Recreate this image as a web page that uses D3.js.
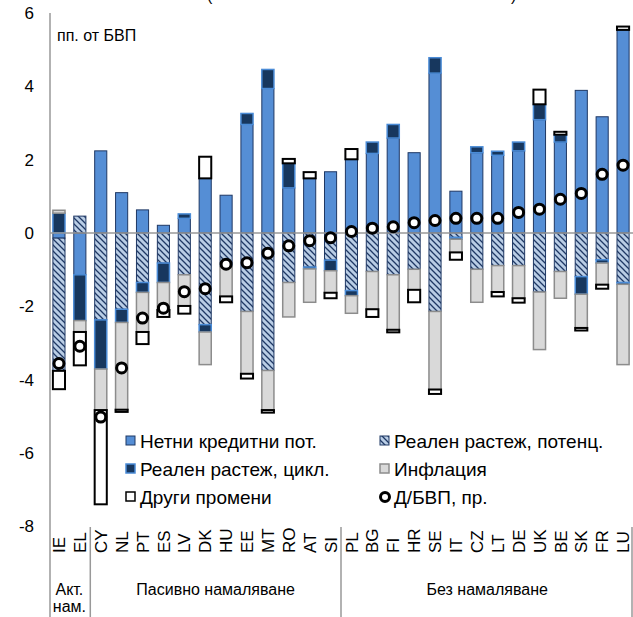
<!DOCTYPE html>
<html><head><meta charset="utf-8">
<script src="https://cdn.jsdelivr.net/npm/d3@7/dist/d3.min.js"></script>
<style>body{margin:0;background:#fff}svg{display:block;font-family:"Liberation Sans",Arial,sans-serif}</style>
</head><body><svg id="c" width="633" height="617"></svg>
<script>
const categories = ["IE","EL","CY","NL","PT","ES","LV","DK","HU","EE","MT","RO","AT","SI","PL","BG","FI","HR","SE","IT","CZ","LT","DE","UK","BE","SK","FR","LU"];
const netCredit  = [-0.14,-1.14,2.24,1.10,0.63,0.21,0.40,1.49,1.03,2.96,3.94,1.23,1.49,1.67,2.01,2.17,2.59,2.19,4.36,1.14,2.19,2.12,2.24,3.09,2.48,3.89,3.17,5.54];
const potential  = [-3.62,0.46,-2.37,-2.08,-1.35,-0.82,-1.14,-2.50,-0.92,-2.14,-3.75,-1.35,-0.93,-0.74,-1.57,-1.05,-1.14,-0.99,-2.14,-0.12,-0.99,-0.89,-0.89,-1.61,-1.05,-1.19,-0.73,-1.35];
const cyclical   = [0.54,-1.25,-1.34,-0.36,-0.27,-0.53,0.12,-0.20,0,0.30,0.52,0.67,-0.05,-0.29,-0.14,0.31,0.37,0,0.42,-0.05,0.16,0.11,0.24,0.42,0.20,-0.48,-0.09,-0.05];
const inflation  = [0.08,-0.31,-1.12,-2.38,-1.08,-0.75,-0.85,-0.89,-0.81,-1.70,-1.08,-0.94,-0.91,-0.60,-0.48,-1.03,-1.50,-0.56,-2.13,-0.36,-0.90,-0.72,-0.89,-1.57,-0.73,-0.92,-0.59,-2.19];
const other      = [-0.50,-0.91,-2.57,-0.06,-0.33,-0.19,-0.21,0.59,-0.16,-0.13,-0.07,0.12,0.17,-0.15,0.28,-0.21,-0.07,-0.34,-0.12,-0.20,0,-0.12,-0.12,0.40,0.08,-0.07,-0.11,0.09];
const debtChange = [-3.56,-3.09,-5.02,-3.68,-2.32,-2.05,-1.60,-1.52,-0.85,-0.81,-0.55,-0.35,-0.21,-0.13,0.04,0.13,0.17,0.28,0.34,0.40,0.40,0.40,0.56,0.65,0.92,1.08,1.60,1.85];
const yTicks = [-8,-6,-4,-2,0,2,4,6];
const groups = [{name:["Акт.","нам."], from:0, to:2},{name:["Пасивно намаляване"], from:2, to:14},{name:["Без намаляване"], from:14, to:28}];
const seriesNames = ["Нетни кредитни пот.","Реален растеж, потенц.","Реален растеж, цикл.","Инфлация","Други промени","Д/БВП, пр."];
const keys = ["nc","pot","cyc","inf","oth"];

const rows = categories.map((c,i)=>({cat:c, nc:netCredit[i], pot:potential[i], cyc:cyclical[i], inf:inflation[i], oth:other[i]}));

const svg = d3.select("#c");
const defs = svg.append("defs");
const pat = defs.append("pattern").attr("id","hatch").attr("patternUnits","userSpaceOnUse").attr("width",6).attr("height",6);
pat.append("rect").attr("width",6).attr("height",6).attr("fill","#B9CDE5");
pat.append("path").attr("d","M-1,-1 L7,7 M-1,5 L1,7 M5,-1 L7,1").attr("stroke","#1F3864").attr("stroke-width",1.3);

const styles = {
  nc:{fill:"#558ED5", stroke:"#1F3864", sw:1},
  pot:{fill:"url(#hatch)", stroke:"#1F3864", sw:1},
  cyc:{fill:"#17375E", stroke:"#4A8BD6", sw:1.5},
  inf:{fill:"#D9D9D9", stroke:"#8C8C8C", sw:1.5},
  oth:{fill:"#FFFFFF", stroke:"#000000", sw:2}
};

const x = d3.scaleBand().domain(categories).range([48.5,633.5]).paddingInner(0.42).paddingOuter(0.21);
const y = d3.scaleLinear().domain([-8,6]).range([526.3,13]);

const stack = d3.stack().keys(keys).offset(d3.stackOffsetDiverging);
const stacked = stack(rows);

// y tick labels
const yAxis = d3.axisLeft(y).tickValues(yTicks).tickSize(0).tickPadding(0).tickFormat(d=>String(d));
const ga = svg.append("g").attr("transform","translate(34,0)").call(yAxis);
ga.select(".domain").remove();
ga.selectAll("text").attr("font-size",17).attr("fill","#000").attr("font-family","Liberation Sans, Arial, sans-serif");

// bars
stacked.forEach(s=>{
  const st = styles[s.key];
  svg.append("g").selectAll("rect").data(s.filter(d=>Math.abs(d[1]-d[0])>0.0001)).join("rect")
    .attr("x",d=>x(d.data.cat))
    .attr("width",x.bandwidth())
    .attr("y",d=>y(Math.max(d[0],d[1])))
    .attr("height",d=>Math.abs(y(d[0])-y(d[1])))
    .attr("fill",st.fill).attr("stroke",st.stroke).attr("stroke-width",st.sw);
});

// zero line & axis line
svg.append("line").attr("x1",50).attr("x2",633).attr("y1",y(0)).attr("y2",y(0)).attr("stroke","#999").attr("stroke-width",1.5);
svg.append("line").attr("x1",50).attr("x2",50).attr("y1",13).attr("y2",617).attr("stroke","#999").attr("stroke-width",1.5);

// markers
svg.append("g").selectAll("circle").data(categories).join("circle")
  .attr("cx",d=>x(d)+x.bandwidth()/2).attr("cy",(d,i)=>y(debtChange[i])).attr("r",5)
  .attr("fill","#fff").attr("stroke","#000").attr("stroke-width",3);

// unit label
svg.append("text").attr("x",57).attr("y",41).attr("font-size",16).text("пп. от БВП");

// top clipped title parentheses (cut off at the top edge, as in the reference)
svg.append("text").attr("x",207).attr("y",1).attr("font-size",16).text("(");
svg.append("text").attr("x",511).attr("y",1).attr("font-size",16).text(")");

// x labels
svg.append("g").selectAll("text").data(categories).join("text")
  .attr("transform",d=>`translate(${x(d)+x.bandwidth()/2},553) rotate(-90)`)
  .attr("dy","0.36em").attr("font-size",17).attr("text-anchor","start").text(d=>d);

// group separators & labels
const step = x.step();
const gx = i => 48.5 + i*step;
groups.forEach((g,gi)=>{
  if(gi>0) svg.append("line").attr("x1",gx(g.from)).attr("x2",gx(g.from)).attr("y1",527).attr("y2",617).attr("stroke","#999").attr("stroke-width",1.5);
  const cx = (gx(g.from)+gx(g.to))/2;
  g.name.forEach((t,ti)=>{
    svg.append("text").attr("x",cx).attr("y",595+ti*17).attr("text-anchor","middle").attr("font-size",16).text(t);
  });
});
svg.append("line").attr("x1",632).attr("x2",632).attr("y1",527).attr("y2",617).attr("stroke","#999").attr("stroke-width",1.5);

// legend
const legItems = [
  {k:"nc", col:0, row:0, name:seriesNames[0]},
  {k:"pot", col:1, row:0, name:seriesNames[1]},
  {k:"cyc", col:0, row:1, name:seriesNames[2]},
  {k:"inf", col:1, row:1, name:seriesNames[3]},
  {k:"oth", col:0, row:2, name:seriesNames[4]},
  {k:"dd", col:1, row:2, name:seriesNames[5]}
];
const legX = [126, 380], legY = 441, legDy = 28;
legItems.forEach(it=>{
  const lx = legX[it.col], ly = legY + it.row*legDy;
  if(it.k==="dd"){
    svg.append("circle").attr("cx",lx+5).attr("cy",ly).attr("r",4.5).attr("fill","#fff").attr("stroke","#000").attr("stroke-width",3);
  } else {
    const st = styles[it.k];
    svg.append("rect").attr("x",lx).attr("y",ly-5).attr("width",9).attr("height",9)
      .attr("fill",st.fill).attr("stroke",st.stroke).attr("stroke-width",Math.min(st.sw,1.5));
  }
  svg.append("text").attr("x",lx+14).attr("y",ly).attr("dy","0.35em").attr("font-size",19).text(it.name);
});
</script></body></html>
